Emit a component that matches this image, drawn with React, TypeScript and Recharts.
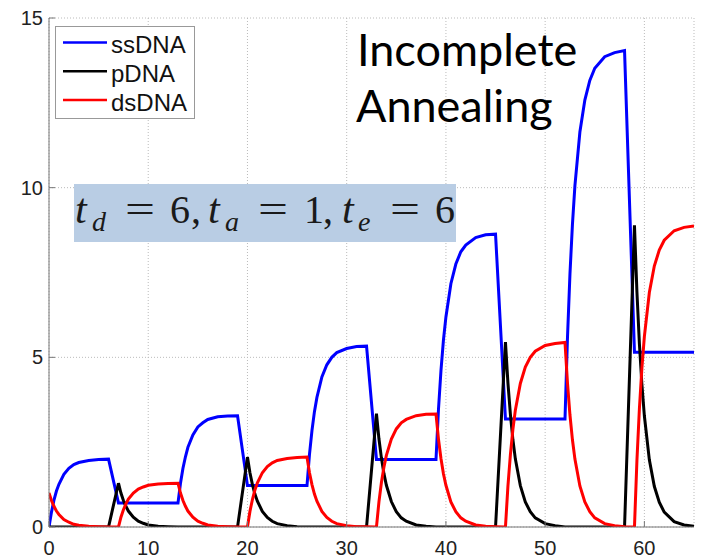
import { LineChart, Line, XAxis, YAxis, CartesianGrid, Legend } from "recharts";

// sample times: each PCR cycle is 6 denature + 1 anneal + 6 extend
const time = [
  0, 0.25, 0.5, 0.75, 1, 1.5, 2, 2.5, 3, 4, 5, 6, 7, 7.25, 7.5, 7.75, 8, 8.5, 9, 9.5, 10, 11, 12,
  13, 13.25, 13.5, 13.75, 14, 14.5, 15, 15.5, 16, 17, 18, 19, 20, 20.25, 20.5, 20.75, 21, 21.5, 22, 22.5, 23, 24, 25,
  26, 26.25, 26.5, 26.75, 27, 27.5, 28, 28.5, 29, 30, 31, 32, 33, 33.25, 33.5, 33.75, 34, 34.5, 35, 35.5, 36, 37, 38,
  39, 39.25, 39.5, 39.75, 40, 40.5, 41, 41.5, 42, 43, 44, 45, 46, 46.25, 46.5, 46.75, 47, 47.5, 48, 48.5, 49, 50, 51,
  52, 52.25, 52.5, 52.75, 53, 53.5, 54, 54.5, 55, 56, 57, 58, 59, 59.25, 59.5, 59.75, 60, 60.5, 61, 61.5, 62, 63, 64, 65,
];

const ssDNA = [
  0, 0.44, 0.79, 1.06, 1.26, 1.55, 1.73, 1.84, 1.9, 1.96, 1.99, 2.0,
  0.71, 0.71, 0.71, 0.71, 0.71, 0.71, 0.71, 0.71, 0.71, 0.71, 0.71,
  0.71, 1.29, 1.73, 2.07, 2.35, 2.71, 2.95, 3.07, 3.17, 3.25, 3.27, 3.28,
  1.22, 1.22, 1.22, 1.22, 1.22, 1.22, 1.22, 1.22, 1.22, 1.22, 1.22,
  1.22, 2.14, 2.84, 3.4, 3.82, 4.42, 4.78, 5.0, 5.14, 5.26, 5.32, 5.33,
  1.99, 1.99, 1.99, 1.99, 1.99, 1.99, 1.99, 1.99, 1.99, 1.99, 1.99,
  1.99, 3.47, 4.61, 5.51, 6.19, 7.17, 7.75, 8.11, 8.31, 8.53, 8.61, 8.63,
  3.18, 3.18, 3.18, 3.18, 3.18, 3.18, 3.18, 3.18, 3.18, 3.18, 3.18,
  3.18, 5.58, 7.46, 8.92, 10.06, 11.64, 12.58, 13.16, 13.52, 13.86, 13.98, 14.04,
  5.15, 5.15, 5.15, 5.15, 5.15, 5.15, 5.15, 5.15, 5.15, 5.15, 5.15, 5.15,
];

const pDNA = [
  0, 0, 0, 0, 0, 0, 0, 0, 0, 0, 0, 0,
  1.29, 1.0, 0.78, 0.61, 0.47, 0.29, 0.17, 0.11, 0.06, 0.02, 0.01,
  0, 0, 0, 0, 0, 0, 0, 0, 0, 0, 0, 0,
  2.06, 1.6, 1.25, 0.97, 0.76, 0.46, 0.28, 0.17, 0.1, 0.04, 0.01,
  0, 0, 0, 0, 0, 0, 0, 0, 0, 0, 0, 0,
  3.34, 2.6, 2.03, 1.58, 1.23, 0.75, 0.45, 0.27, 0.17, 0.06, 0.02,
  0, 0, 0, 0, 0, 0, 0, 0, 0, 0, 0, 0,
  5.45, 4.24, 3.31, 2.57, 2.0, 1.22, 0.74, 0.45, 0.27, 0.1, 0.04,
  0, 0, 0, 0, 0, 0, 0, 0, 0, 0, 0, 0,
  8.89, 6.92, 5.39, 4.2, 3.27, 1.98, 1.2, 0.73, 0.44, 0.16, 0.06, 0.02,
];

const dsDNA = [
  1.0, 0.78, 0.61, 0.47, 0.37, 0.22, 0.14, 0.08, 0.05, 0.02, 0.01, 0,
  0, 0.29, 0.51, 0.68, 0.82, 1.0, 1.12, 1.18, 1.23, 1.27, 1.28,
  1.29, 1.0, 0.78, 0.61, 0.47, 0.29, 0.17, 0.11, 0.06, 0.02, 0.01, 0,
  0, 0.46, 0.81, 1.09, 1.3, 1.6, 1.78, 1.89, 1.96, 2.02, 2.05,
  2.06, 1.6, 1.25, 0.97, 0.76, 0.46, 0.28, 0.17, 0.1, 0.04, 0.01, 0.01,
  0, 0.74, 1.31, 1.76, 2.11, 2.59, 2.89, 3.07, 3.17, 3.28, 3.32,
  3.33, 2.59, 2.02, 1.57, 1.23, 0.74, 0.45, 0.27, 0.17, 0.06, 0.02, 0.01,
  0, 1.21, 2.14, 2.88, 3.45, 4.23, 4.71, 5.0, 5.18, 5.35, 5.41,
  5.44, 4.24, 3.3, 2.57, 2.0, 1.21, 0.74, 0.45, 0.27, 0.1, 0.04, 0.01,
  0, 1.97, 3.5, 4.69, 5.62, 6.91, 7.69, 8.16, 8.45, 8.73, 8.83, 8.87,
];

const xTicks = [0, 10, 20, 30, 40, 50, 60];
const yTicks = [0, 5, 10, 15];

const series = [
  { key: "ssDNA", color: "#0000ff" },
  { key: "pDNA", color: "#000000" },
  { key: "dsDNA", color: "#ff0000" },
];

const chartData = time.map((t, i) => ({
  t,
  ssDNA: ssDNA[i],
  pDNA: pDNA[i],
  dsDNA: dsDNA[i],
}));

const sans = "'Liberation Sans', Arial, sans-serif";
const serif = "'Liberation Serif', 'Times New Roman', serif";
const tickStyle = { fontSize: 20, fill: "#222", fontFamily: sans };
const axisColor = "#777";

// legend box in the MATLAB style, entries in plotting order
function LegendBox() {
  return (
    <svg width={140} height={93} style={{ display: "block" }}>
      <rect x={0.5} y={0.5} width={139} height={92} fill="#fff" stroke="#999" />
      {series.map((s, i) => (
        <g key={s.key}>
          <line x1={8} x2={52} y1={16.5 + i * 28.8} y2={16.5 + i * 28.8} stroke={s.color} strokeWidth={2.5} />
          <text x={56} y={27.3 + i * 28.8} fontSize={24} fontFamily={sans} fill="#111">
            {s.key}
          </text>
        </g>
      ))}
    </svg>
  );
}

export default function App() {
  return (
    <div style={{ position: "absolute", left: 0, top: 0, width: 702, height: 558, background: "#fff" }}>
      <LineChart width={702} height={558} data={chartData} margin={{ top: 18, right: 8, left: 0, bottom: 0 }}>
        <CartesianGrid stroke="#bbb" strokeDasharray="1 2" />
        <XAxis
          dataKey="t"
          type="number"
          domain={[0, 65]}
          ticks={xTicks}
          interval={0}
          allowDataOverflow
          height={31}
          tick={tickStyle}
          tickSize={-6}
          tickMargin={20}
          stroke={axisColor}
        />
        <XAxis
          xAxisId="top"
          orientation="top"
          type="number"
          domain={[0, 65]}
          ticks={xTicks}
          interval={0}
          allowDataOverflow
          height={0}
          tick={false}
          tickSize={-6}
          stroke={axisColor}
        />
        <YAxis
          type="number"
          domain={[0, 15]}
          ticks={yTicks}
          interval={0}
          allowDataOverflow
          width={49}
          tick={tickStyle}
          tickSize={-6}
          tickMargin={12}
          stroke={axisColor}
        />
        <YAxis
          yAxisId="right"
          orientation="right"
          type="number"
          domain={[0, 15]}
          ticks={yTicks}
          interval={0}
          allowDataOverflow
          width={0}
          tick={false}
          tickSize={-6}
          stroke={axisColor}
        />
        <Legend
          layout="vertical"
          align="center"
          verticalAlign="middle"
          content={<LegendBox />}
          wrapperStyle={{ left: 55, top: 26, width: 140, height: 93 }}
        />
        {series.map((s) => (
          <Line
            key={s.key}
            type="linear"
            dataKey={s.key}
            name={s.key}
            stroke={s.color}
            strokeWidth={3}
            dot={false}
            isAnimationActive={false}
          />
        ))}
      </LineChart>

      {/* annotations drawn on top of the plot */}
      <svg width={702} height={558} style={{ position: "absolute", left: 0, top: 0, pointerEvents: "none" }}>
        <text x={357} y={66} fontSize={45} fontFamily="Lato, sans-serif" fill="#000">
          Incomplete
        </text>
        <text x={356} y={122} fontSize={45} fontFamily="Lato, sans-serif" fill="#000">
          Annealing
        </text>

        <rect x={74} y={184} width={382} height={58} fill="#b9cde4" />
        <g fontFamily={serif} fill="#1a1a1a">
          <text x={75} y={223} fontSize={42} fontStyle="italic">t</text>
          <text x={92} y={231} fontSize={28} fontStyle="italic">d</text>
          <text x={125} y={223} fontSize={40} textLength={30} lengthAdjust="spacingAndGlyphs">=</text>
          <text x={170} y={223} fontSize={40}>6</text>
          <text x={191} y={223} fontSize={40}>,</text>
          <text x={208} y={223} fontSize={42} fontStyle="italic">t</text>
          <text x={225} y={231} fontSize={28} fontStyle="italic">a</text>
          <text x={258} y={223} fontSize={40} textLength={30} lengthAdjust="spacingAndGlyphs">=</text>
          <text x={304} y={223} fontSize={40}>1</text>
          <text x={323} y={223} fontSize={40}>,</text>
          <text x={342} y={223} fontSize={42} fontStyle="italic">t</text>
          <text x={358} y={231} fontSize={28} fontStyle="italic">e</text>
          <text x={390} y={223} fontSize={40} textLength={30} lengthAdjust="spacingAndGlyphs">=</text>
          <text x={435} y={223} fontSize={40}>6</text>
        </g>
      </svg>
    </div>
  );
}
